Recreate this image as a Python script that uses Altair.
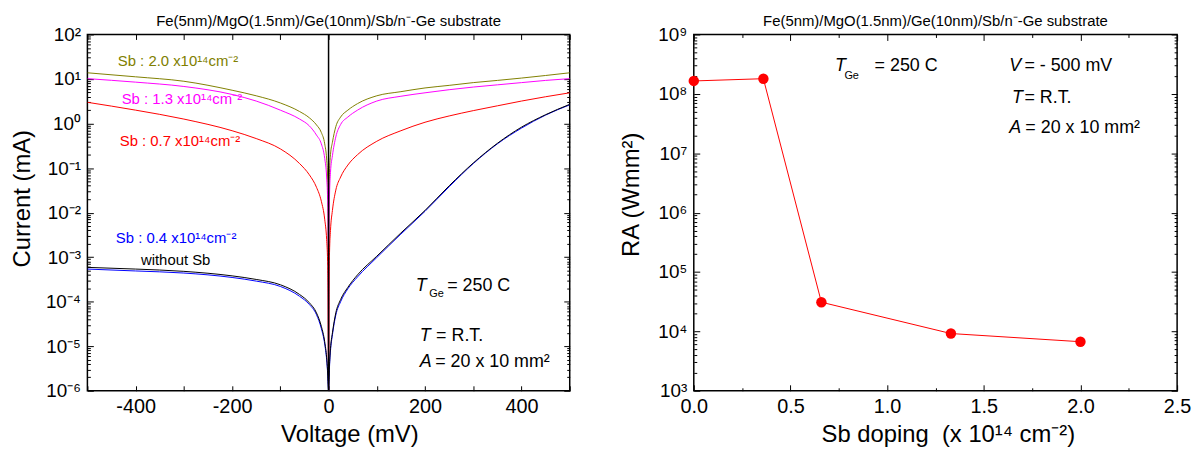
import altair as alt
import pandas as pd

FONT = "Liberation Sans"

# ---------------- left panel: I-V curves (current in mA) ----------------
voltage = [-500, -400, -300, -200, -150, -100, -60, -40, -25, -15, -8, -4, -2, -1, 0,
           1, 2, 4, 8, 15, 25, 40, 60, 100, 150, 200, 250, 300, 350, 400, 450, 500]

current_sb20 = [13.8, 11.2, 8.9, 5.6, 4.2, 2.9, 1.86, 1.35, 0.93, 0.63, 0.35, 0.16, 0.063, 0.02, 1e-6,
                0.025, 0.08, 0.2, 0.38, 0.85, 1.4, 2.0, 2.8, 4.2, 5.2, 6.3, 7.2, 8.3, 9.3, 10.5, 12.0, 13.8]
current_sb13 = [10.2, 8.5, 6.8, 4.5, 3.2, 2.0, 1.26, 0.89, 0.55, 0.35, 0.166, 0.063, 0.02, 0.005, 1e-6,
                0.0063, 0.025, 0.08, 0.19, 0.5, 0.95, 1.4, 2.0, 3.2, 4.1, 4.9, 5.75, 6.6, 7.4, 8.3, 9.3, 10.2]
current_sb07 = [3.0, 2.0, 1.26, 0.69, 0.46, 0.27, 0.126, 0.071, 0.037, 0.018, 0.0071, 0.0025, 8e-4, 1.6e-4, 1e-6,
                2.5e-4, 1.26e-3, 4e-3, 0.0112, 0.032, 0.063, 0.117, 0.2, 0.4, 0.69, 1.07, 1.48, 1.95, 2.5, 3.2, 4.0, 4.9]
current_sb04 = [5.4e-4, 4.9e-4, 4.4e-4, 3.5e-4, 2.9e-4, 2.2e-4, 1.32e-4, 8.7e-5, 5.1e-5, 2.5e-5, 1.12e-5, 5e-6, 2.5e-6, 1.4e-6, 1e-6,
                1.8e-6, 3.5e-6, 7.9e-6, 1.8e-5, 5e-5, 1e-4, 1.95e-4, 3.6e-4, 9.8e-4, 3.3e-3, 0.0107, 0.038, 0.126, 0.35, 0.79, 1.55, 2.63]
current_nosb = [5.9e-4, 5.4e-4, 4.8e-4, 3.8e-4, 3.16e-4, 2.4e-4, 1.45e-4, 9.5e-5, 5.6e-5, 2.8e-5, 1.26e-5, 5.6e-6, 2.8e-6, 1.6e-6, 1e-6,
                2e-6, 4e-6, 8.9e-6, 2e-5, 5.6e-5, 1.12e-4, 2.1e-4, 4e-4, 1.05e-3, 3.5e-3, 0.0112, 0.04, 0.13, 0.36, 0.83, 1.58, 2.7]

series_names = ["1 Sb 2.0", "2 Sb 1.3", "3 Sb 0.7", "4 Sb 0.4", "5 without Sb"]
series_values = [current_sb20, current_sb13, current_sb07, current_sb04, current_nosb]
series_colors = ["#808000", "#ff00ff", "#ff0000", "#0000ff", "#000000"]
series_widths = [1.0, 1.0, 1.0, 1.4, 1.4]

left_x_ticks = [-500, -400, -300, -200, -100, 0, 100, 200, 300, 400, 500]
left_x_labels = [-400, -200, 0, 200, 400]
left_y_ticks = [1e-6, 1e-5, 1e-4, 1e-3, 1e-2, 1e-1, 1e0, 1e1, 1e2]
left_y_labels = ["10⁻⁶", "10⁻⁵", "10⁻⁴", "10⁻³", "10⁻²", "10⁻¹", "10⁰", "10¹", "10²"]
left_y_minor = [k * 10.0 ** n for n in range(-6, 2) for k in range(2, 10)]

# ---------------- right panel: RA vs Sb doping ----------------
doping = [0.0, 0.36, 0.66, 1.33, 2.0]
ra_values = [1.65e8, 1.8e8, 3.1e4, 9.2e3, 6.7e3]

right_x_ticks = [0.0, 0.5, 1.0, 1.5, 2.0, 2.5]
right_x_minor = [0.25, 0.75, 1.25, 1.75, 2.25]
right_y_ticks = [1e3, 1e4, 1e5, 1e6, 1e7, 1e8, 1e9]
right_y_labels = ["10³", "10⁴", "10⁵", "10⁶", "10⁷", "10⁸", "10⁹"]
right_y_minor = [k * 10.0 ** n for n in range(3, 9) for k in range(2, 10)]

title_text = "Fe(5nm)/MgO(1.5nm)/Ge(10nm)/Sb/n⁻-Ge substrate"

# ---------------- build tables ----------------
rows = []
for name, vals in zip(series_names, series_values):
    for v, i in zip(voltage, vals):
        rows.append({"V": v, "I": i, "series": name})
df_iv = pd.DataFrame(rows)
df_ra = pd.DataFrame({"D": doping, "RA": ra_values})

xs_left = alt.Scale(domain=[-500, 500], nice=False, zero=False)
ys_left = alt.Scale(type="log", domain=[1e-6, 1e2], nice=False)
xs_right = alt.Scale(domain=[0, 2.5], nice=False, zero=False)
ys_right = alt.Scale(type="log", domain=[1e3, 1e9], nice=False)


def label_expr(labels, first_exp):
    arr = "[" + ",".join("'" + s + "'" for s in labels) + "]"
    return arr + "[round(log(datum.value)/LN10)-(" + str(first_exp) + ")]"


def tick_layers(df, xf, yf, xsc, ysc, specs):
    out = []
    for chan, orient, values, size in specs:
        ax = alt.Axis(orient=orient, values=values, tickSize=size, offset=-size,
                      labels=False, domain=False, grid=False, title=None,
                      ticks=True, tickColor="black", tickWidth=1)
        if chan == "x":
            enc = dict(x=alt.X(xf, scale=xsc, axis=ax), y=alt.Y(yf, scale=ysc, axis=None))
        else:
            enc = dict(x=alt.X(xf, scale=xsc, axis=None), y=alt.Y(yf, scale=ysc, axis=ax))
        out.append(alt.Chart(df).mark_point(opacity=0).encode(**enc))
    return out


def text_layer(items, xf, yf, xsc, ysc, size, italic=False):
    df = pd.DataFrame(items, columns=[xf.split(":")[0], yf.split(":")[0], "txt", "col"])
    return alt.Chart(df).mark_text(
        align="left", baseline="middle", fontSize=size, font=FONT,
        fontStyle="italic" if italic else "normal"
    ).encode(
        x=alt.X(xf, scale=xsc, axis=None),
        y=alt.Y(yf, scale=ysc, axis=None),
        text="txt:N",
        color=alt.Color("col:N", scale=None),
    )


# ---------------- left chart ----------------
lines = alt.Chart(df_iv).mark_line(interpolate="monotone", clip=True).encode(
    x=alt.X("V:Q", scale=xs_left, axis=alt.Axis(
        values=left_x_labels, ticks=False, domain=False, grid=False, labelFontSize=20,
        labelPadding=6, labelFlush=False,
        labelExpr="datum.value < 0 ? '-' + format(-datum.value, 'd') : format(datum.value, 'd')",
        title="Voltage (mV)", titleFontSize=24,
        titleFontWeight="normal", titleX=264, titleY=51, titleBaseline="alphabetic")),
    y=alt.Y("I:Q", scale=ys_left, axis=alt.Axis(
        values=left_y_ticks, ticks=False, domain=False, grid=False, labelFontSize=19,
        labelPadding=7, labelExpr=label_expr(left_y_labels, -6), title="Current (mA)",
        titleFontSize=24, titleFontWeight="normal", titleAngle=270, titleX=-65, titleY=165,
        titleBaseline="middle", titleAlign="center")),
    color=alt.Color("series:N", scale=alt.Scale(domain=series_names, range=series_colors), legend=None),
    strokeWidth=alt.StrokeWidth("series:N", scale=alt.Scale(domain=series_names, range=series_widths), legend=None),
    detail="series:N",
)

zero_rule = alt.Chart(pd.DataFrame({"V": [0]})).mark_rule(color="black", strokeWidth=1.5).encode(
    x=alt.X("V:Q", scale=xs_left, axis=None))

sb_labels = text_layer([
    (-437, 25.0, "Sb : 2.0 x10¹⁴cm⁻²", "#808000"),
    (-429, 3.5, "Sb : 1.3 x10¹⁴cm⁻²", "#ff00ff"),
    (-433, 0.413, "Sb : 0.7 x10¹⁴cm⁻²", "#ff0000"),
    (-441, 2.66e-3, "Sb : 0.4 x10¹⁴cm⁻²", "#0000ff"),
    (-389, 8.4e-4, "without Sb", "#000000"),
], "V:Q", "I:Q", xs_left, ys_left, 15)

left_it = text_layer([
    (181, 2.3e-4, "T", "#000000"),
    (189, 1.68e-5, "T", "#000000"),
    (189, 4.43e-6, "A", "#000000"),
], "V:Q", "I:Q", xs_left, ys_left, 18, italic=True)
left_rm = text_layer([
    (246, 2.3e-4, "= 250 C", "#000000"),
    (223, 1.68e-5, "= R.T.", "#000000"),
    (221, 4.43e-6, "= 20 x 10 mm²", "#000000"),
], "V:Q", "I:Q", xs_left, ys_left, 18)
left_sub = text_layer([
    (209, 1.45e-4, "Ge", "#000000"),
], "V:Q", "I:Q", xs_left, ys_left, 11)

left_ticks = tick_layers(df_iv, "V:Q", "I:Q", xs_left, ys_left, [
    ("x", "bottom", left_x_ticks, 5), ("x", "top", left_x_ticks, 5),
    ("y", "left", left_y_ticks, 6), ("y", "right", left_y_ticks, 6),
    ("y", "left", left_y_minor, 3), ("y", "right", left_y_minor, 3),
])

title_params = dict(fontSize=15, fontWeight="normal", font=FONT, offset=-3, anchor="middle",
                    color="black", frame="group")

left = alt.layer(lines, zero_rule, sb_labels, left_it, left_rm, left_sub, *left_ticks).resolve_axis(
    x="independent", y="independent").properties(
    width=486, height=359, title=alt.TitleParams(text=title_text, **title_params))

# ---------------- right chart ----------------
ra_line = alt.Chart(df_ra).mark_line(color="#ff0000", strokeWidth=1).encode(
    x=alt.X("D:Q", scale=xs_right, axis=alt.Axis(
        values=right_x_ticks, ticks=False, domain=False, grid=False, labelFontSize=20,
        labelPadding=6, labelFlush=False, format=".1f",
        title="Sb doping\u00a0 (x 10¹⁴ cm⁻²)", titleFontSize=24, titleFontWeight="normal",
        titleX=256, titleY=51, titleBaseline="alphabetic")),
    y=alt.Y("RA:Q", scale=ys_right, axis=alt.Axis(
        values=right_y_ticks, ticks=False, domain=False, grid=False, labelFontSize=19,
        labelPadding=7, labelExpr=label_expr(right_y_labels, 3), title="RA (Wmm²)",
        titleFontSize=24, titleFontWeight="normal", titleAngle=270, titleX=-63, titleY=161,
        titleBaseline="middle", titleAlign="center")),
)
ra_pts = alt.Chart(df_ra).mark_circle(color="#ff0000", size=110, opacity=1).encode(
    x=alt.X("D:Q", scale=xs_right, axis=None),
    y=alt.Y("RA:Q", scale=ys_right, axis=None),
)

right_it = text_layer([
    (0.731, 2.92e8, "T", "#000000"),
    (1.632, 2.92e8, "V", "#000000"),
    (1.646, 8.5e7, "T", "#000000"),
    (1.632, 2.7e7, "A", "#000000"),
], "D:Q", "RA:Q", xs_right, ys_right, 18, italic=True)
right_rm = text_layer([
    (0.935, 2.92e8, "= 250 C", "#000000"),
    (1.710, 2.92e8, "= - 500 mV", "#000000"),
    (1.710, 8.5e7, "= R.T.", "#000000"),
    (1.715, 2.7e7, "= 20 x 10 mm²", "#000000"),
], "D:Q", "RA:Q", xs_right, ys_right, 18)
right_sub = text_layer([
    (0.779, 2.0e8, "Ge", "#000000"),
], "D:Q", "RA:Q", xs_right, ys_right, 11)

right_ticks = tick_layers(df_ra, "D:Q", "RA:Q", xs_right, ys_right, [
    ("x", "bottom", right_x_ticks, 6), ("x", "top", right_x_ticks, 6),
    ("x", "bottom", right_x_minor, 3), ("x", "top", right_x_minor, 3),
    ("y", "left", right_y_ticks, 6), ("y", "right", right_y_ticks, 6),
    ("y", "left", right_y_minor, 3), ("y", "right", right_y_minor, 3),
])

right = alt.layer(ra_line, ra_pts, right_it, right_rm, right_sub, *right_ticks).resolve_axis(
    x="independent", y="independent").properties(
    width=487, height=359, title=alt.TitleParams(text=title_text, **title_params))

chart = alt.hconcat(left, right, spacing=45).properties(
    padding={"left": 2, "top": 3, "right": 0, "bottom": 0}
).configure_view(stroke="black", strokeWidth=1.5).configure_axis(
    labelFont=FONT, titleFont=FONT, labelColor="black", titleColor="black"
).configure_text(font=FONT).configure_title(font=FONT)

chart.save("out.html", embed_options={"renderer": "svg", "actions": False})
